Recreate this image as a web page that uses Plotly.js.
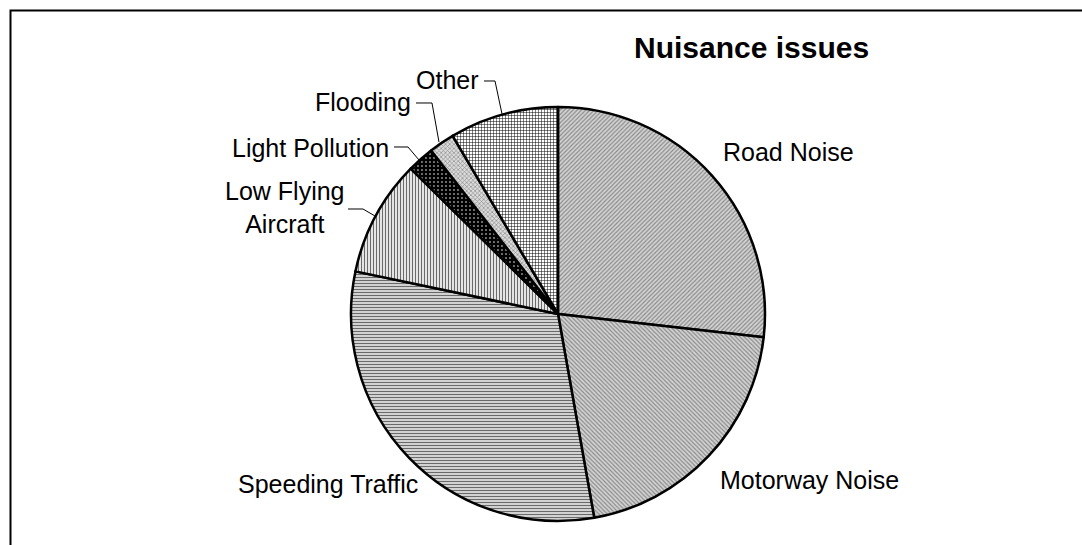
<!DOCTYPE html>
<html>
<head>
<meta charset="utf-8">
<script src="https://cdn.plot.ly/plotly-3.0.1.min.js"></script>
<style>html,body{margin:0;padding:0;background:#fff;}#chart{width:1082px;height:545px;}</style>
</head>
<body>
<div id="chart"></div>
<script>
const categories = ["Road Noise", "Motorway Noise", "Speeding Traffic", "Low Flying Aircraft", "Light Pollution", "Flooding", "Other"];
const displayLabels = ["Road Noise", "Motorway Noise", "Speeding Traffic", "Low Flying<br>Aircraft", "Light Pollution", "Flooding", "Other"];
const values = [26.8, 20.4, 31.1, 9.1, 2.1, 2.0, 8.5];
const chartTitle = "Nuisance issues";

const W = 1082, H = 545;
const px = x => x / W;
const py = y => 1 - y / H;

const patterns = {
  shape: ["/", "\\", "-", "|", ".", "x", "+"],
  fgcolor: ["#8a8a8a", "#8a8a8a", "#6a6a6a", "#6a6a6a", "#ffffff", "#8a8a8a", "#000000"],
  bgcolor: ["#d4d4d4", "#d4d4d4", "#e8e8e8", "#ffffff", "#000000", "#dcdcdc", "#ffffff"],
  size: [3, 3, 3, 3, 4, 3, 3],
  solidity: [0.4, 0.4, 0.45, 0.45, 0.12, 0.4, 0.3]
};

const cx = 558, cy = 314, r = 207;
const trace = {
  type: "pie",
  labels: categories,
  values: values,
  sort: false,
  direction: "clockwise",
  rotation: 0,
  textinfo: "none",
  hoverinfo: "label+percent",
  showlegend: false,
  domain: {x: [px(cx - r), px(cx + r)], y: [py(cy + r), py(cy - r)]},
  marker: {
    colors: patterns.bgcolor,
    line: {color: "#000", width: 2.5},
    pattern: {
      shape: patterns.shape,
      fgcolor: patterns.fgcolor,
      bgcolor: patterns.bgcolor,
      size: patterns.size,
      solidity: patterns.solidity,
      fillmode: "replace"
    }
  }
};

const labelPos = [
  {x: 721, y: 152, xa: "left"},
  {x: 718, y: 480, xa: "left"},
  {x: 236, y: 484, xa: "left"},
  {x: 285, y: 207, xa: "center"},
  {x: 391, y: 148, xa: "right"},
  {x: 413, y: 102, xa: "right"},
  {x: 481, y: 80, xa: "right"}
];

const font = {family: "Liberation Sans, Arial, sans-serif", size: 25, color: "#000"};
const annotations = displayLabels.map((t, i) => ({
  text: t, xref: "paper", yref: "paper",
  x: px(labelPos[i].x), y: py(labelPos[i].y),
  xanchor: labelPos[i].xa, yanchor: "middle",
  showarrow: false, align: "center", font: font
}));
annotations.push({
  text: "<b>" + chartTitle + "</b>", xref: "paper", yref: "paper",
  x: px(751), y: py(47), xanchor: "center", yanchor: "middle",
  showarrow: false, font: {family: "Liberation Sans, Arial, sans-serif", size: 30, color: "#000"}
});

function path(pts) {
  return pts.map((p, i) => (i ? "L" : "M") + px(p[0]).toFixed(5) + "," + py(p[1]).toFixed(5)).join(" ");
}
const leaders = [
  [[484, 81], [495, 81], [502, 114]],
  [[416, 103], [432, 103], [439, 142]],
  [[394, 147], [408, 147], [419, 160]],
  [[348, 209], [363, 209], [375, 216]]
];
const shapes = leaders.map(l => ({type: "path", xref: "paper", yref: "paper", path: path(l), line: {color: "#000", width: 1}}));
shapes.push({type: "rect", xref: "paper", yref: "paper", x0: px(10.5), x1: 1.2, y0: -0.2, y1: py(10.5), line: {color: "#000", width: 2}, fillcolor: "rgba(0,0,0,0)"});

const layout = {
  width: W, height: H,
  margin: {l: 0, r: 0, t: 0, b: 0},
  paper_bgcolor: "#fff",
  plot_bgcolor: "#fff",
  annotations: annotations,
  shapes: shapes
};

Plotly.newPlot("chart", [trace], layout, {displayModeBar: false, staticPlot: true});
</script>
</body>
</html>
